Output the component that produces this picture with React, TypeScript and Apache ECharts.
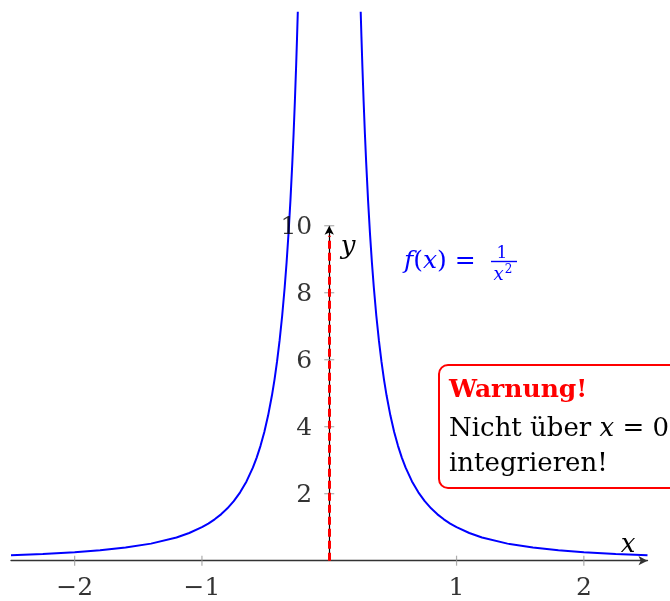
import React, { useEffect, useRef } from "react";
import * as echarts from "echarts";

// Curve samples (f(x) = 1/x^2)
const leftX = [-2.5, -2.25, -2, -1.8, -1.6, -1.4, -1.2, -1.1, -1, -0.95, -0.9, -0.85, -0.8, -0.75, -0.7, -0.65, -0.6, -0.57, -0.54, -0.51, -0.48, -0.45, -0.43, -0.41, -0.39, -0.37, -0.35, -0.335, -0.32, -0.305, -0.29, -0.28, -0.27, -0.26, -0.253, -0.247];
const leftY = [0.16, 0.198, 0.25, 0.309, 0.391, 0.51, 0.694, 0.826, 1, 1.108, 1.235, 1.384, 1.563, 1.778, 2.041, 2.367, 2.778, 3.078, 3.429, 3.845, 4.34, 4.938, 5.408, 5.949, 6.575, 7.305, 8.163, 8.911, 9.766, 10.75, 11.891, 12.755, 13.717, 14.793, 15.623, 16.39];
const rightX = [0.247, 0.253, 0.26, 0.27, 0.28, 0.29, 0.305, 0.32, 0.335, 0.35, 0.37, 0.39, 0.41, 0.43, 0.45, 0.48, 0.51, 0.54, 0.57, 0.6, 0.65, 0.7, 0.75, 0.8, 0.85, 0.9, 0.95, 1, 1.1, 1.2, 1.4, 1.6, 1.8, 2, 2.25, 2.5];
const rightY = [16.39, 15.623, 14.793, 13.717, 12.755, 11.891, 10.75, 9.766, 8.911, 8.163, 7.305, 6.575, 5.949, 5.408, 4.938, 4.34, 3.845, 3.429, 3.078, 2.778, 2.367, 2.041, 1.778, 1.563, 1.384, 1.235, 1.108, 1, 0.826, 0.694, 0.51, 0.391, 0.309, 0.25, 0.198, 0.16];

const xTicks = [-2, -1, 1, 2];
const yTicks = [2, 4, 6, 8, 10];
const yAxisTop = 10;

const FONT = "DejaVu Serif";
const fmt = (v: number) => (v < 0 ? "\u2212" + Math.abs(v) : String(v));

export default function App() {
  const ref = useRef<HTMLDivElement>(null);
  useEffect(() => {
    if (!ref.current) return;
    const chart = echarts.init(ref.current, undefined, { renderer: "svg" });
    const zip = (xs: number[], ys: number[]) => xs.map((x, i) => [x, ys[i]]);
    chart.setOption({
      animation: false,
      grid: { left: 11, right: 22.5, top: 8, bottom: 40.3 },
      xAxis: {
        type: "value",
        min: -2.5,
        max: 2.5,
        axisLine: {
          show: true,
          onZero: false,
          lineStyle: { color: "#333", width: 1.3 },
          symbol: ["none", "arrow"],
          symbolSize: [7, 9],
        },
        axisTick: { show: false },
        axisLabel: { show: false },
        splitLine: { show: false },
      },
      yAxis: {
        type: "value",
        min: 0,
        max: 16.5,
        show: false,
        splitLine: { show: false },
      },
      series: [
        {
          type: "line",
          data: [],
          markLine: {
            silent: true,
            z: 1,
            symbol: ["none", "arrow"],
            symbolSize: [7, 9],
            label: { show: false },
            lineStyle: { color: "#000", type: "solid", width: 1.2 },
            data: [[{ coord: [0, 0] }, { coord: [0, yAxisTop] }]],
          },
          z: 1,
        },
        {
          type: "line",
          data: [],
          markLine: {
            silent: true,
            z: 8,
            symbol: ["none", "none"],
            label: { show: false },
            lineStyle: { color: "#ff0000", type: [8, 4], width: 3 },
            data: [[{ coord: [0, 0] }, { coord: [0, yAxisTop - 0.3] }]],
          },
          z: 8,
        },
        {
          type: "line",
          data: zip(leftX, leftY),
          smooth: false,
          showSymbol: false,
          lineStyle: { color: "#0000ff", width: 2 },
          z: 3,
        },
        {
          type: "line",
          data: zip(rightX, rightY),
          smooth: false,
          showSymbol: false,
          lineStyle: { color: "#0000ff", width: 2 },
          z: 3,
        },
        {
          type: "scatter",
          data: xTicks.map((t) => [t, 0]),
          symbol: "rect",
          symbolSize: [1.2, 10],
          itemStyle: { color: "#999" },
          label: {
            show: true,
            position: "bottom",
            distance: 8,
            formatter: (p: any) => fmt(p.value[0]),
            fontFamily: FONT,
            fontSize: 25,
            color: "#000",
          },
          z: 5,
        },
        {
          type: "scatter",
          data: yTicks.map((t) => [0, t]),
          symbol: "rect",
          symbolSize: [10, 1.2],
          itemStyle: { color: "#999" },
          label: {
            show: true,
            position: "left",
            distance: 12,
            formatter: (p: any) => fmt(p.value[1]),
            fontFamily: FONT,
            fontSize: 25,
            color: "#000",
          },
          z: 5,
        },
      ],
      graphic: [
        {
          type: "text",
          x: 628,
          y: 543,
          style: { text: "x", font: `italic 26px "${FONT}"`, fill: "#000", align: "center", verticalAlign: "middle" },
        },
        {
          type: "text",
          x: 348,
          y: 245,
          style: { text: "y", font: `italic 26px "${FONT}"`, fill: "#000", align: "center", verticalAlign: "middle" },
        },
        {
          type: "text",
          x: 404,
          y: 259,
          style: {
            text: "{i|f}{r|(}{i|x}{r|) =}",
            fill: "#0000ff",
            verticalAlign: "middle",
            rich: {
              i: { fontFamily: FONT, fontStyle: "italic", fontSize: 25, fill: "#0000ff" },
              r: { fontFamily: FONT, fontSize: 25, fill: "#0000ff" },
            },
          },
        },
        {
          type: "text",
          x: 502,
          y: 252,
          style: { text: "1", font: `17px "${FONT}"`, fill: "#0000ff", align: "center", verticalAlign: "middle" },
        },
        {
          type: "line",
          shape: { x1: 491, y1: 261.5, x2: 517, y2: 261.5 },
          style: { stroke: "#0000ff", lineWidth: 1.4 },
        },
        {
          type: "text",
          x: 503,
          y: 273,
          style: {
            text: "{i|x}{s|2}",
            align: "center",
            verticalAlign: "middle",
            rich: {
              i: { fontFamily: FONT, fontStyle: "italic", fontSize: 18, fill: "#0000ff" },
              s: { fontFamily: FONT, fontSize: 12, fill: "#0000ff", verticalAlign: "top", padding: [0, 0, 9, 1] },
            },
          },
        },
        {
          type: "rect",
          shape: { x: 439, y: 365, width: 262, height: 123, r: 9 },
          style: { fill: "#fff", stroke: "#ff0000", lineWidth: 2 },
          z: 10,
        },
        {
          type: "text",
          x: 449,
          y: 388,
          z: 11,
          style: { text: "Warnung!", font: `bold 25px "${FONT}"`, fill: "#ff0000", verticalAlign: "middle" },
        },
        {
          type: "text",
          x: 449,
          y: 427,
          z: 11,
          style: {
            text: "{r|Nicht über }{i|x}{r| = 0}",
            verticalAlign: "middle",
            rich: {
              r: { fontFamily: FONT, fontSize: 26, fill: "#000" },
              i: { fontFamily: FONT, fontStyle: "italic", fontSize: 26, fill: "#000" },
            },
          },
        },
        {
          type: "text",
          x: 449,
          y: 462,
          z: 11,
          style: { text: "integrieren!", font: `26px "${FONT}"`, fill: "#000", verticalAlign: "middle" },
        },
      ],
    });
    return () => chart.dispose();
  }, []);
  return <div ref={ref} style={{ position: "fixed", left: 0, top: 0, width: 670, height: 601 }} />;
}
